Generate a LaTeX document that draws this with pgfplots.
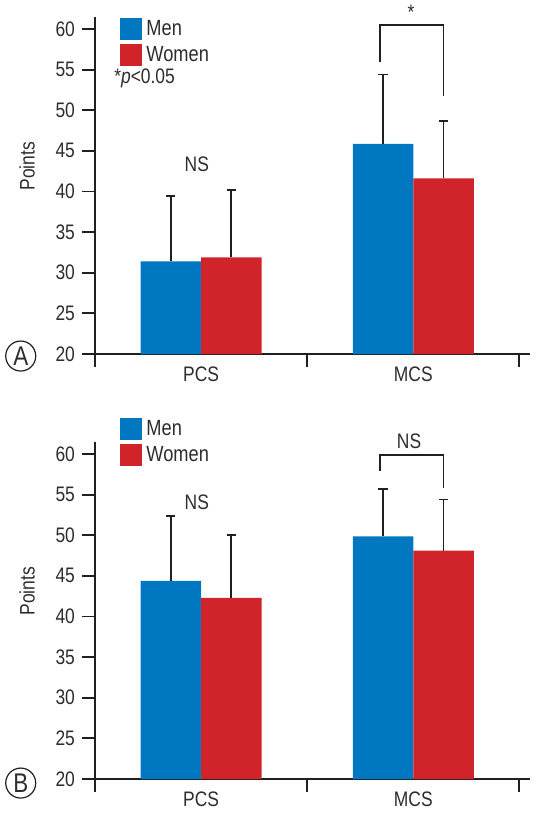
\documentclass[border=0pt]{standalone}
\usepackage{fontspec}
\setmainfont{Liberation Sans}[FakeStretch=0.83]
\usepackage{pgfplots}
\pgfplotsset{compat=1.18}
\definecolor{menblue}{RGB}{0,120,193}
\definecolor{womenred}{RGB}{208,35,42}
\definecolor{ink}{RGB}{35,31,32}
\definecolor{txt}{RGB}{45,45,45}
\newcommand{\fs}{\fontsize{10.5}{12}\selectfont}
\pgfplotsset{
  panel/.style={
    scale only axis, width=217.5pt, height=168.6pt,
    xmin=-0.5, xmax=1.55, ymin=20, ymax=61.5,
    clip mode=individual,
    axis x line*=bottom, axis y line*=left,
    axis line style={ink, line width=0.9pt},
    tick align=outside,
    major tick length=6.5pt,
    every tick/.style={ink, line width=0.9pt},
    ytick={20,25,...,60},
    xtick={-0.5,0.5,1.5}, xticklabels={},
    extra x ticks={0,1}, extra x tick labels={PCS,MCS},
    extra x tick style={major tick length=0pt, xticklabel style={yshift=-3pt}},
    /pgf/number format/assume math mode=true,
    ticklabel style={font=\fs, text=txt},
    ylabel={Points},
    ylabel style={font=\fs, text=txt, at={(axis description cs:-0.156,0.557)}, anchor=center},
    legend style={draw=none, fill=none, font=\fontsize{11}{12}\selectfont, text=txt, anchor=north west,
      row sep=2pt, column sep=2pt, nodes={inner sep=0pt}},
    legend cell align=left,
    legend image code/.code={\fill[#1] (0pt,-5.5pt) rectangle (11pt,5.5pt);},
  },
  ebar/.style={ybar, bar width=0.285, bar shift=0pt, draw=none,
    error bars/.cd, y dir=plus, y explicit,
    error bar style={draw=ink, line width=0.9pt},
    error mark=|,
    error mark options={draw=ink, line width=0.9pt, mark size=2.3pt}},
}
\begin{document}
\begin{tikzpicture}
\useasboundingbox (0pt,0pt) rectangle (270.5pt,-407pt);
% Panel A
\begin{axis}[panel, at={(47.5pt,-177pt)}, anchor=south west,
  legend style={at={(rel axis cs:0.0437,1.009)}}]
\addplot[fill=menblue, ebar] coordinates {(-0.1425,31.4) +- (0,8.0) (0.8575,45.85) +- (0,8.55)};
\addlegendentry{Men}
\addplot[fill=womenred, ebar] coordinates {(0.1425,31.9) +- (0,8.3) (1.1425,41.6) +- (0,7.1)};
\addlegendentry{Women}
\draw[ink, line width=0.9pt] (axis cs:0.842,55.9) -- (axis cs:0.842,60.5) -- (axis cs:1.1425,60.5) -- (axis cs:1.1425,51.8);
\node[font=\fs, text=txt] at (axis cs:0.989,62.0) {*};
\node[font=\fs, text=txt] at (axis cs:-0.02,43.3) {NS};
\node[font=\fs, text=txt, anchor=west, inner sep=0pt] at (axis cs:-0.411,53.97) {*\textit{p}<0.05};
\node[font=\fontsize{13.5}{14}\selectfont, text=txt, circle, draw=ink, line width=0.6pt, minimum size=15pt, inner sep=0pt] at (axis cs:-0.85,19.75) {A};
\end{axis}
% Panel B
\begin{axis}[panel, at={(47.5pt,-389.5pt)}, anchor=south west,
  legend style={at={(rel axis cs:0.0437,1.083)}}]
\addplot[fill=menblue, ebar] coordinates {(-0.1425,44.4) +- (0,8.0) (0.8575,49.85) +- (0,5.85)};
\addlegendentry{Men}
\addplot[fill=womenred, ebar] coordinates {(0.1425,42.3) +- (0,7.7) (1.1425,48.1) +- (0,6.3)};
\addlegendentry{Women}
\draw[ink, line width=0.9pt] (axis cs:0.842,57.9) -- (axis cs:0.842,59.9) -- (axis cs:1.1425,59.9) -- (axis cs:1.1425,55.8);
\node[font=\fs, text=txt] at (axis cs:0.98,61.6) {NS};
\node[font=\fs, text=txt] at (axis cs:-0.02,54.1) {NS};
\node[font=\fontsize{13.5}{14}\selectfont, text=txt, circle, draw=ink, line width=0.6pt, minimum size=15pt, inner sep=0pt] at (axis cs:-0.85,19.5) {B};
\end{axis}
\end{tikzpicture}
\end{document}
